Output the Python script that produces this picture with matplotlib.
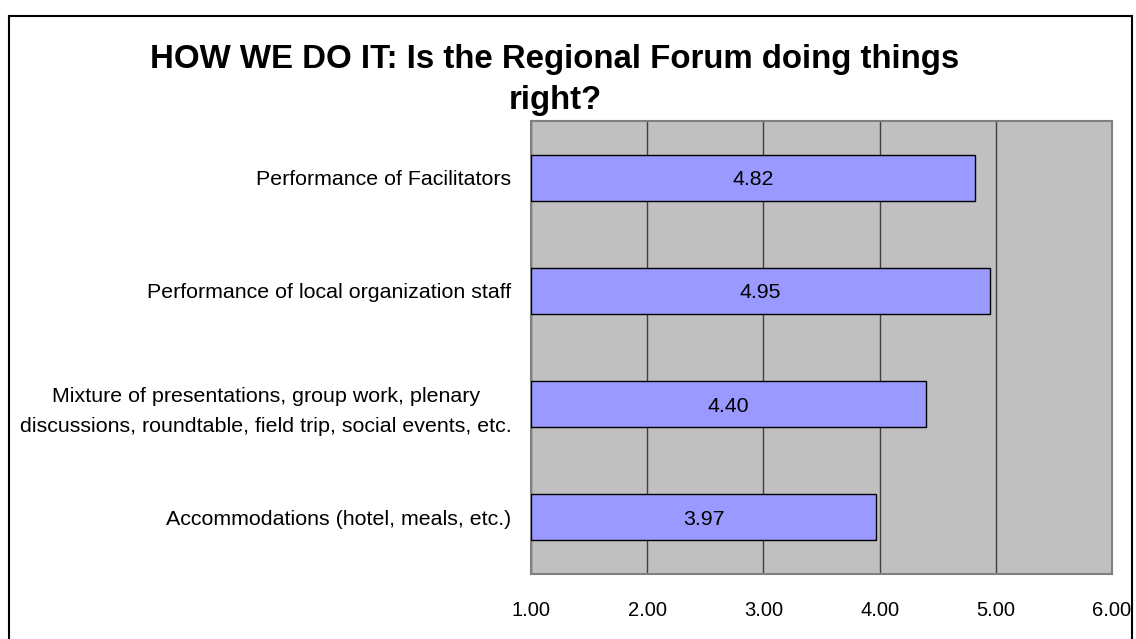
import numpy as np
import matplotlib
matplotlib.use('Agg')
import matplotlib.pyplot as plt
from matplotlib.lines import Line2D

plt.rcParams['font.family'] = ['Liberation Sans', 'DejaVu Sans']

categories = ['Performance of Facilitators',
              'Performance of local organization staff',
              'Mixture of presentations, group work, plenary\ndiscussions, roundtable, field trip, social events, etc.',
              'Accommodations (hotel, meals, etc.)']
scores = [4.82, 4.95, 4.40, 3.97]
x_ticks = [1, 2, 3, 4, 5, 6]
x_labels = ['1.00', '2.00', '3.00', '4.00', '5.00', '6.00']
title = 'HOW WE DO IT: Is the Regional Forum doing things\nright?'

fig = plt.figure(figsize=(11.36, 6.39), dpi=100)
ax = fig.add_axes([531/1136, 65/639, 581/1136, 453/639])
ax.set_facecolor('#C0C0C0')

ypos = np.arange(len(categories))
base = 1.0
bars = ax.barh(ypos, np.array(scores) - base, left=base, height=0.405,
               color='#9999FF', edgecolor='black', linewidth=1, zorder=3)

for y, s in zip(ypos, scores):
    ax.text((base + s) / 2, y, f'{s:.2f}', ha='center', va='center_baseline',
            fontsize=15.4, color='black', zorder=4)

ax.set_xlim(1, 6)
ax.set_ylim(3.5, -0.5)
ax.set_xticks(x_ticks)
ax.set_xticklabels(x_labels, fontsize=14.5)
ax.set_yticks(ypos)
ax.set_yticklabels(categories, fontsize=15.4, multialignment='center',
                   linespacing=1.7)
ax.tick_params(axis='both', length=0)
ax.tick_params(axis='x', pad=19.5)
ax.tick_params(axis='y', pad=14)
ax.xaxis.grid(True, color='#404040', linewidth=1, zorder=1)
ax.set_axisbelow(True)
for sp in ax.spines.values():
    sp.set_color('#808080')
    sp.set_linewidth(1.5)

fig.text(555/1136, 1 - 80/639, title, ha='center', va='center',
         fontsize=23.8, fontweight='bold', linespacing=1.45)

# outer frame (chart border, bottom edge is cut off)
fx0, fx1, fy1 = 9/1136, 1132/1136, 1 - 16/639
for xs, ys in [([fx0, fx0], [-0.1, fy1]), ([fx0, fx1], [fy1, fy1]), ([fx1, fx1], [fy1, -0.1])]:
    fig.add_artist(Line2D(xs, ys, color='black', linewidth=1.5, transform=fig.transFigure))

fig.savefig('out.png', dpi=100)
